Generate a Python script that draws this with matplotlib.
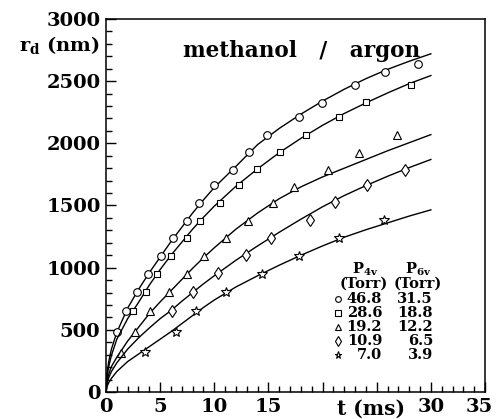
import matplotlib
matplotlib.use("Agg")
import matplotlib.pyplot as plt
from matplotlib.ticker import MultipleLocator
from matplotlib.transforms import ScaledTranslation

plt.rcParams["font.family"] = "DejaVu Serif"
plt.rcParams["font.weight"] = "bold"

# measured points (t in ms, r_d in nm)
circle_t = [0.99, 1.85, 2.83, 3.85, 5.08, 6.19, 7.48, 8.59, 9.99, 11.7, 13.2, 14.9, 17.8, 19.9, 23.0, 25.8, 28.8]
circle_r = [486, 653, 801, 952, 1091, 1240, 1379, 1522, 1663, 1782, 1927, 2065, 2210, 2328, 2468, 2570, 2635]

square_t = [2.52, 3.66, 4.68, 6.0, 7.48, 8.68, 10.5, 12.3, 13.9, 16.1, 18.5, 21.5, 24.0, 28.2]
square_r = [653, 801, 952, 1091, 1240, 1379, 1522, 1663, 1790, 1933, 2065, 2210, 2330, 2468]

triangle_t = [1.39, 2.68, 4.06, 5.82, 7.45, 9.08, 11.1, 13.1, 15.4, 17.4, 20.5, 23.4, 26.9]
triangle_r = [317, 486, 650, 801, 952, 1091, 1240, 1379, 1520, 1650, 1782, 1925, 2067]

diamond_t = [6.06, 8.06, 10.3, 12.9, 15.2, 18.8, 21.1, 24.1, 27.6]
diamond_r = [650, 806, 955, 1098, 1240, 1387, 1532, 1661, 1785]

star_t = [3.6, 6.46, 8.31, 11.1, 14.4, 17.8, 21.5, 25.7]
star_r = [318, 486, 653, 802, 953, 1097, 1240, 1382]

# fitted curves
curve_t = [0, 0.1, 0.25, 0.5, 1, 2, 3, 4, 5, 6, 7, 8, 9, 10, 12, 14, 16, 18, 20, 22, 24, 26, 28, 30]
curve_circle = [0, 155, 245, 345, 480, 675, 825, 960, 1085, 1210, 1325, 1440, 1545, 1645, 1815, 1990,
                2120, 2235, 2340, 2435, 2520, 2595, 2660, 2720]
curve_square = [0, 130, 205, 295, 425, 590, 720, 860, 985, 1100, 1205, 1310, 1405, 1495, 1655, 1795,
                1925, 2040, 2145, 2240, 2325, 2405, 2480, 2545]
curve_triangle = [0, 90, 145, 205, 280, 410, 520, 630, 725, 815, 905, 995, 1080, 1160, 1310, 1440,
                  1555, 1650, 1730, 1800, 1870, 1940, 2005, 2070]
curve_diamond = [0, 70, 115, 165, 235, 345, 435, 515, 590, 655, 730, 800, 870, 935, 1060, 1175,
                 1285, 1390, 1490, 1580, 1660, 1735, 1805, 1870]
curve_star = [0, 45, 75, 110, 165, 245, 305, 365, 425, 485, 550, 615, 680, 740, 845, 935,
              1020, 1100, 1175, 1245, 1305, 1360, 1415, 1465]

# legend table
p4v = ["46.8", "28.6", "19.2", "10.9", "7.0"]
p6v = ["31.5", "18.8", "12.2", "6.5", "3.9"]
x_ticks = [0, 5, 10, 15, 20, 25, 30, 35]
x_tick_labels = ["0", "5", "10", "15", "", "", "30", "35"]

series = [
    (circle_t, circle_r, curve_circle, "o", 5.5),
    (square_t, square_r, curve_square, "s", 5),
    (triangle_t, triangle_r, curve_triangle, "^", 5.5),
    (diamond_t, diamond_r, curve_diamond, "d", 6.5),
    (star_t, star_r, curve_star, "*", 7),
]

fig = plt.figure(figsize=(4.97, 4.19), dpi=100)
ax = fig.add_axes([0.2133, 0.0644, 0.7626, 0.8903])

for t, r, curve, marker, size in series:
    ax.plot(curve_t, curve, color="black", linewidth=1.0)
    ax.plot(t, r, linestyle="none", marker=marker, markersize=size,
            markerfacecolor="white", markeredgecolor="black", markeredgewidth=0.8)

ax.set_xlim(0, 35)
ax.set_ylim(0, 3000)
ax.set_xticks(x_ticks)
ax.set_xticklabels(x_tick_labels)
ax.yaxis.set_major_locator(MultipleLocator(500))
ax.xaxis.set_minor_locator(MultipleLocator(1))
ax.yaxis.set_minor_locator(MultipleLocator(100))
ax.tick_params(which="both", direction="in", top=False, right=False, labelsize=14, width=1)
ax.tick_params(which="major", length=7, pad=4)
ax.tick_params(which="minor", length=4)
for lbl in ax.get_xticklabels() + ax.get_yticklabels():
    lbl.set_fontweight("bold")
for s in ax.spines.values():
    s.set_linewidth(1.1)

# nudge the last x label so it stays inside the picture
last = ax.get_xticklabels()[-1]
last.set_transform(last.get_transform() + ScaledTranslation(-4 / 72, 0, fig.dpi_scale_trans))

ax.text(24.5, -55, "t (ms)", ha="center", va="top", fontsize=14.5, fontweight="bold")
ax.text(-0.6, 2780, r"r$_{\mathregular{d}}$ (nm)", ha="right", va="center", fontsize=14,
        fontweight="bold")
ax.text(0.515, 0.915, "methanol   /   argon", transform=ax.transAxes, ha="center", va="center",
        fontsize=15.5, fontweight="bold")

# legend table
ax.text(23.9, 990, r"P$_{\mathregular{4v}}$", ha="center", va="center", fontsize=10.5, fontweight="bold")
ax.text(28.8, 990, r"P$_{\mathregular{6v}}$", ha="center", va="center", fontsize=10.5, fontweight="bold")
ax.text(23.8, 870, "(Torr)", ha="center", va="center", fontsize=10.5, fontweight="bold")
ax.text(28.8, 870, "(Torr)", ha="center", va="center", fontsize=10.5, fontweight="bold")
for i, (a, b) in enumerate(zip(p4v, p6v)):
    yy = 750 - i * 114
    ax.plot([21.4], [yy], linestyle="none", marker=series[i][3], markersize=series[i][4] * 0.75,
            markerfacecolor="white", markeredgecolor="black", markeredgewidth=0.8)
    ax.text(25.5, yy, a, ha="right", va="center", fontsize=10.5, fontweight="bold")
    ax.text(30.2, yy, b, ha="right", va="center", fontsize=10.5, fontweight="bold")

fig.savefig("out.png", dpi=100)
